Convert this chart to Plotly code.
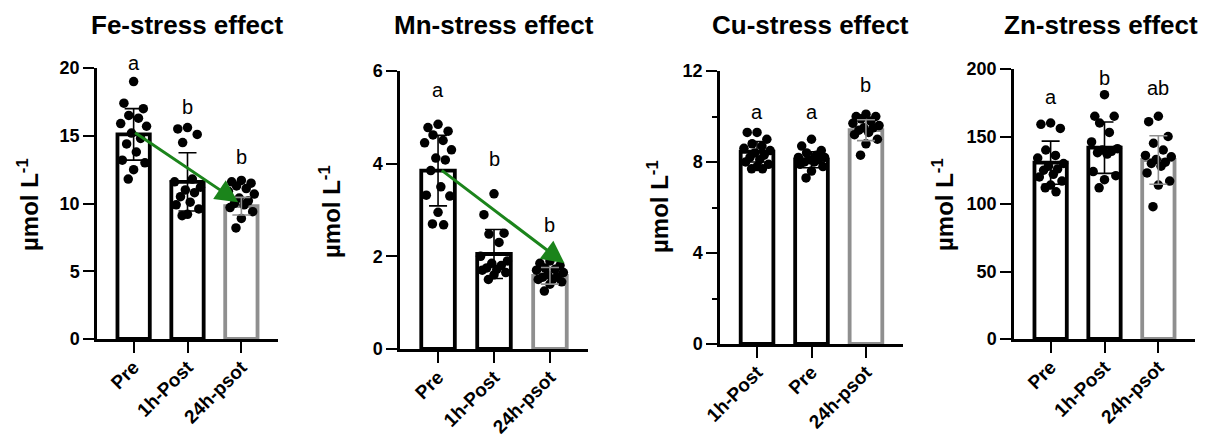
import plotly.graph_objects as go

# ---------------- data ----------------
FE_CATS = ["Pre", "1h-Post", "24h-psot"]
FE_MEAN = [15.1, 11.6, 9.8]
FE_SD = [1.9, 2.15, 0.65]
FE_PRE = [19.0, 17.4, 17.0, 16.5, 16.3, 15.9, 15.7, 15.2, 14.8, 14.4, 13.8, 13.2, 13.0, 12.5, 11.8]
FE_1H = [15.6, 15.5, 15.1, 14.5, 11.8, 11.6, 11.2, 11.0, 10.8, 10.5, 10.1, 9.9, 9.6, 9.2, 9.1]
FE_24H = [11.7, 11.6, 11.5, 11.3, 11.1, 10.9, 10.7, 10.4, 10.2, 10.0, 9.9, 9.7, 9.4, 8.9, 8.2]
FE_LETTERS = ["a", "b", "b"]

MN_CATS = ["Pre", "1h-Post", "24h-psot"]
MN_MEAN = [3.85, 2.05, 1.58]
MN_SD = [0.76, 0.53, 0.18]
MN_PRE = [4.85, 4.78, 4.70, 4.62, 4.50, 4.45, 4.30, 4.12, 4.08, 3.85, 3.50, 3.32, 3.30, 2.95, 2.70, 2.68]
MN_1H = [3.35, 2.90, 2.50, 2.48, 2.30, 2.00, 1.90, 1.85, 1.80, 1.75, 1.72, 1.70, 1.65, 1.60, 1.50]
MN_24H = [1.90, 1.85, 1.80, 1.75, 1.72, 1.70, 1.65, 1.60, 1.56, 1.55, 1.50, 1.50, 1.45, 1.40, 1.25]
MN_LETTERS = ["a", "b", "b"]

CU_CATS = ["1h-Post", "Pre", "24h-psot"]
CU_MEAN = [8.45, 8.1, 9.4]
CU_SD = [0.45, 0.35, 0.46]
CU_1H = [9.3, 9.3, 9.0, 8.8, 8.7, 8.6, 8.5, 8.4, 8.3, 8.2, 8.1, 8.0, 7.9, 7.8, 7.7, 7.7]
CU_PRE = [9.0, 8.7, 8.5, 8.4, 8.3, 8.2, 8.2, 8.1, 8.1, 8.0, 8.0, 7.9, 7.8, 7.6, 7.3]
CU_24H = [10.1, 10.0, 10.0, 9.9, 9.8, 9.7, 9.6, 9.5, 9.5, 9.4, 9.3, 9.2, 9.0, 8.8, 8.3]
CU_LETTERS = ["a", "a", "b"]

ZN_CATS = ["Pre", "1h-Post", "24h-psot"]
ZN_MEAN = [130.6, 141.7, 132.6]
ZN_SD = [16.0, 19.0, 18.0]
ZN_PRE = [160, 159, 156, 140, 136, 134, 130, 128, 126, 125, 122, 120, 117, 114, 112, 109]
ZN_1H = [181, 165, 165, 160, 153, 146, 141, 140, 139, 138, 137, 124, 121, 118, 112]
ZN_24H = [165, 161, 150, 145, 140, 136, 135, 133, 131, 130, 128, 123, 117, 114, 98]
ZN_LETTERS = ["a", "b", "ab"]

TITLES = ["Fe-stress effect", "Mn-stress effect", "Cu-stress effect", "Zn-stress effect"]
Y_TITLE = "µmol L<sup>-1</sup>"

# ---------------- layout / style ----------------
PAGE_W, PAGE_H = 1206, 439
OFF = 8                      # default page body margin
W, H = PAGE_W - OFF, PAGE_H - OFF
FONT = "Liberation Sans, Arial, sans-serif"
BLACK = "#000000"
GRAY = "#8f8f8f"
GREEN = "#1b841b"
BAR_COLORS = [BLACK, BLACK, GRAY]
JITTER = [0.0, -0.18, 0.18, -0.09, 0.09, -0.24, 0.24, -0.04, 0.13, -0.13,
          0.05, -0.21, 0.21, 0.0, -0.1, 0.1]
XR = [-0.68, 2.68]


def fx(px):
    return (px - OFF) / W


def fy(py):
    return 1 - (py - OFF) / H


panels = [
    dict(cats=FE_CATS, mean=FE_MEAN, sd=FE_SD, pts=[FE_PRE, FE_1H, FE_24H],
         letters=FE_LETTERS, letter_y=[20.4, 17.1, 13.4],
         yr=[0, 20], dtick=5, minor=None,
         xpx=(97, 278), ypx=(68, 339), title_x=187, ytitle_x=28, ytitle_y=205,
         arrow=((0.0, 15.3), (1.94, 10.1))),
    dict(cats=MN_CATS, mean=MN_MEAN, sd=MN_SD, pts=[MN_PRE, MN_1H, MN_24H],
         letters=MN_LETTERS, letter_y=[5.58, 4.10, 2.68],
         yr=[0, 6], dtick=2, minor=None,
         xpx=(400, 588), ypx=(71, 349), title_x=494, ytitle_x=330, ytitle_y=212,
         arrow=((0.04, 3.88), (2.26, 1.85))),
    dict(cats=CU_CATS, mean=CU_MEAN, sd=CU_SD, pts=[CU_1H, CU_PRE, CU_24H],
         letters=CU_LETTERS, letter_y=[10.2, 10.2, 11.4],
         yr=[0, 12], dtick=4, minor=2,
         xpx=(720, 903), ypx=(71, 344), title_x=810, ytitle_x=658, ytitle_y=207,
         arrow=None),
    dict(cats=ZN_CATS, mean=ZN_MEAN, sd=ZN_SD, pts=[ZN_PRE, ZN_1H, ZN_24H],
         letters=ZN_LETTERS, letter_y=[179.5, 193, 186],
         yr=[0, 200], dtick=50, minor=None,
         xpx=(1014, 1195), ypx=(69, 339), title_x=1101, ytitle_x=943, ytitle_y=205,
         arrow=None),
]

fig = go.Figure()
annotations = []

for i, p in enumerate(panels):
    sfx = "" if i == 0 else str(i + 1)
    xa, ya = "x" + sfx, "y" + sfx
    xs = [0, 1, 2]

    # bars
    fig.add_trace(go.Bar(
        x=xs, y=p["mean"], width=0.6, xaxis=xa, yaxis=ya,
        marker=dict(color="white", line=dict(color=BAR_COLORS, width=3.8)),
        hoverinfo="skip"))

    # dots
    for k, vals in enumerate(p["pts"]):
        fig.add_trace(go.Scatter(
            x=[k + JITTER[j % len(JITTER)] for j in range(len(vals))], y=vals,
            mode="markers", xaxis=xa, yaxis=ya,
            marker=dict(color=BLACK, size=9.5, line=dict(width=0)),
            hoverinfo="skip"))

    # error bars (SD)
    for idxs, col in (([0, 1], BLACK), ([2], GRAY)):
        fig.add_trace(go.Scatter(
            x=[xs[k] for k in idxs], y=[p["mean"][k] for k in idxs],
            mode="markers", xaxis=xa, yaxis=ya,
            marker=dict(size=1, color="rgba(0,0,0,0)"),
            error_y=dict(type="data", array=[p["sd"][k] for k in idxs],
                         color=col, thickness=1.6, width=9),
            hoverinfo="skip"))

    xdom = [fx(p["xpx"][0]), fx(p["xpx"][1])]
    ydom = [fy(p["ypx"][1]), fy(p["ypx"][0])]

    fig.update_layout(**{
        "xaxis" + sfx: dict(
            domain=xdom, range=XR, anchor=ya, tickmode="array", tickvals=xs,
            ticktext=p["cats"], tickangle=-45, showline=True, linewidth=2.5,
            linecolor=BLACK, ticks="outside", ticklen=11, tickwidth=2,
            tickcolor=BLACK, showgrid=False, zeroline=False, automargin=False,
            ticklabelstandoff=-4,
            tickfont=dict(family=FONT, size=19, color=BLACK, weight="bold")),
        "yaxis" + sfx: dict(
            domain=ydom, range=p["yr"], anchor=xa, dtick=p["dtick"], tick0=0,
            showline=True, linewidth=2.5, linecolor=BLACK, ticks="outside",
            ticklen=11, tickwidth=2, tickcolor=BLACK, showgrid=False,
            zeroline=False, automargin=False,
            minor=(dict(dtick=p["minor"], ticks="outside", ticklen=5,
                        tickwidth=2, tickcolor=BLACK, showgrid=False)
                   if p["minor"] else None),
            tickfont=dict(family=FONT, size=18, color=BLACK, weight="bold")),
    })

    # significance letters (paper y so they may sit above the axis top)
    ymax = p["yr"][1]
    for k in range(3):
        frac = p["letter_y"][k] / ymax
        annotations.append(dict(
            x=xs[k], y=ydom[0] + frac * (ydom[1] - ydom[0]), xref=xa,
            yref="paper", xanchor="center", yanchor="middle",
            text=p["letters"][k], showarrow=False,
            font=dict(family=FONT, size=20, color=BLACK)))

    # panel title
    annotations.append(dict(
        x=fx(p["title_x"]), y=fy(25), xref="paper", yref="paper",
        text=TITLES[i], showarrow=False, xanchor="center", yanchor="middle",
        font=dict(family=FONT, size=26, color=BLACK, weight="bold")))

    # y-axis title
    annotations.append(dict(
        x=fx(p["ytitle_x"]), y=fy(p["ytitle_y"]), xref="paper", yref="paper",
        text=Y_TITLE, textangle=-90, showarrow=False, xanchor="center",
        yanchor="middle",
        font=dict(family=FONT, size=24, color=BLACK, weight="bold")))

    # trend arrow
    if p["arrow"]:
        (x0, y0), (x1, y1) = p["arrow"]
        annotations.append(dict(
            x=x1, y=y1, ax=x0, ay=y0, xref=xa, yref=ya, axref=xa, ayref=ya,
            text="", showarrow=True, arrowhead=2, arrowsize=1.5, arrowwidth=3,
            arrowcolor=GREEN))

fig.update_layout(
    template="none",
    width=W, height=H, margin=dict(l=0, r=0, t=0, b=0, pad=0, autoexpand=False),
    paper_bgcolor="white", plot_bgcolor="white", showlegend=False,
    barmode="overlay", annotations=annotations,
    font=dict(family=FONT, color=BLACK))

fig.write_html("out.html")
